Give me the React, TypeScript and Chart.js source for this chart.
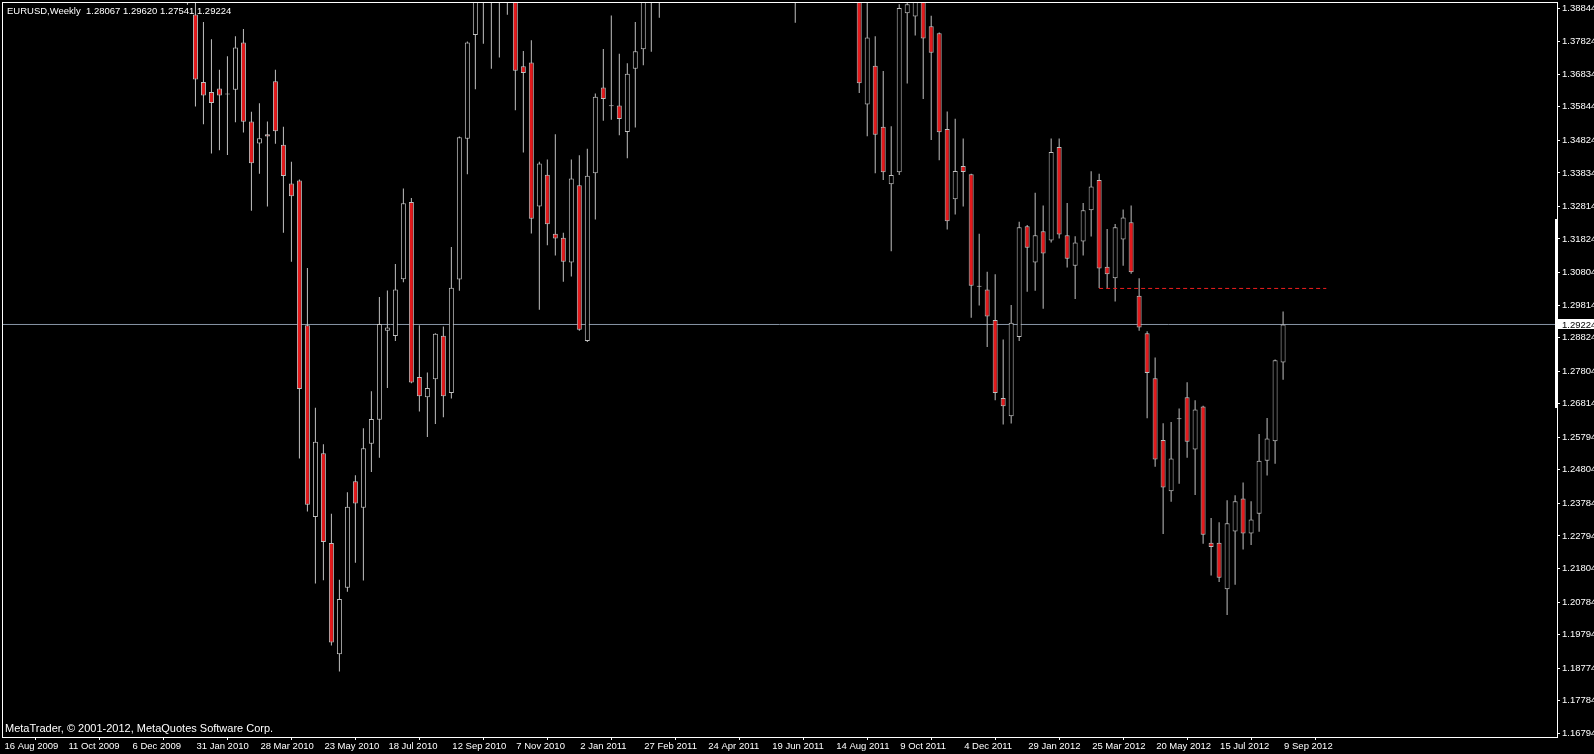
import React, { useEffect, useRef } from "react";
import { Chart, registerables } from "chart.js";

Chart.register(...registerables);

// ---- Data (weekly EURUSD bars, index 0 = week of 16 Aug 2009) ----
const weekLabels = [
  "16 Aug 2009", "11 Oct 2009", "6 Dec 2009", "31 Jan 2010", "28 Mar 2010",
  "23 May 2010", "18 Jul 2010", "12 Sep 2010", "7 Nov 2010", "2 Jan 2011",
  "27 Feb 2011", "24 Apr 2011", "19 Jun 2011", "14 Aug 2011", "9 Oct 2011",
  "4 Dec 2011", "29 Jan 2012", "25 Mar 2012", "20 May 2012", "15 Jul 2012",
  "9 Sep 2012",
];
const labelStep = 8;

const opens = [
  1.4190, 1.4325, 1.4345, 1.4305, 1.4575, 1.4720, 1.4685, 1.4595, 1.4765, 1.4935,
  1.5010, 1.4720, 1.4910, 1.4905, 1.4895, 1.4975, 1.4860, 1.4620, 1.4345, 1.4335,
  1.4320, 1.4410, 1.4380, 1.4140, 1.3865, 1.3660, 1.3629, 1.3640, 1.3622, 1.3636,
  1.3780, 1.3540, 1.3473, 1.3501, 1.3662, 1.3469, 1.3351, 1.3360, 1.2920, 1.2337,
  1.2531, 1.2258, 1.1920, 1.2122, 1.2446, 1.2365, 1.2560, 1.2633, 1.2903, 1.2887,
  1.3060, 1.3295, 1.2763, 1.2701, 1.2756, 1.2888, 1.2714, 1.3059, 1.3487, 1.3803,
  1.3965, 1.3960, 1.3955, 1.3940, 1.4035, 1.3708, 1.3719, 1.3281, 1.3378, 1.3198,
  1.3186, 1.3111, 1.3346, 1.2872, 1.3382, 1.3643, 1.3586, 1.3588, 1.3508, 1.3700,
  1.3759, 1.3990, 1.3925, 1.4060, 1.4160, 1.4235, 1.4465, 1.4430, 1.4580, 1.4810,
  1.4535, 1.4170, 1.4160, 1.4305, 1.4640, 1.4340, 1.4325, 1.4190, 1.4505, 1.4260,
  1.4150, 1.4385, 1.4395, 1.4275, 1.4235, 1.4400, 1.4460, 1.4195, 1.3591, 1.3709,
  1.3524, 1.3349, 1.3385, 1.3869, 1.3859, 1.4150, 1.3829, 1.3808, 1.3517, 1.3303,
  1.3404, 1.3379, 1.3037, 1.3029, 1.2936, 1.2699, 1.2643, 1.2884, 1.3221, 1.3111,
  1.3206, 1.3178, 1.3462, 1.3194, 1.3101, 1.3175, 1.3270, 1.3362, 1.3098, 1.3063,
  1.3181, 1.3233, 1.3010, 1.2896, 1.2759, 1.2571, 1.2415, 1.2634, 1.2701, 1.2542,
  1.2673, 1.2259, 1.2259, 1.2117, 1.2293, 1.2393, 1.2287, 1.2347, 1.2508, 1.2567,
  1.28067,
];
const highs = [
  1.4350, 1.4390, 1.4365, 1.4620, 1.4775, 1.4845, 1.4720, 1.4780, 1.4945, 1.5060,
  1.5050, 1.4925, 1.5015, 1.5010, 1.5145, 1.5140, 1.4890, 1.4690, 1.4390, 1.4510,
  1.4460, 1.4580, 1.4445, 1.4190, 1.3990, 1.3842, 1.3790, 1.3697, 1.3738, 1.3799,
  1.3821, 1.3569, 1.3595, 1.3540, 1.3697, 1.3524, 1.3417, 1.3363, 1.3094, 1.2669,
  1.2558, 1.2347, 1.2146, 1.2412, 1.2464, 1.2607, 1.2719, 1.3006, 1.3026, 1.3106,
  1.3336, 1.3307, 1.2920, 1.2776, 1.2896, 1.2916, 1.3158, 1.3494, 1.3783, 1.4030,
  1.4160, 1.4030, 1.3990, 1.4280, 1.4090, 1.3754, 1.3787, 1.3417, 1.3424, 1.3501,
  1.3201, 1.3424, 1.3437, 1.3457, 1.3625, 1.3760, 1.3862, 1.3746, 1.3717, 1.3842,
  1.4035, 1.4035, 1.4100, 1.4250, 1.4250, 1.4485, 1.4520, 1.4620, 1.4880, 1.4940,
  1.4570, 1.4350, 1.4325, 1.4660, 1.4700, 1.4450, 1.4450, 1.4580, 1.4580, 1.4325,
  1.4425, 1.4530, 1.4450, 1.4410, 1.4550, 1.4500, 1.4550, 1.4200, 1.3920, 1.3799,
  1.3693, 1.3525, 1.3896, 1.3915, 1.4245, 1.4170, 1.3861, 1.3810, 1.3570, 1.3548,
  1.3488, 1.3381, 1.3198, 1.3083, 1.3075, 1.2877, 1.2982, 1.3235, 1.3225, 1.3323,
  1.3284, 1.3488, 1.3488, 1.3292, 1.3191, 1.3292, 1.3388, 1.3381, 1.3213, 1.3228,
  1.3272, 1.3284, 1.3063, 1.2902, 1.2822, 1.2622, 1.2626, 1.2667, 1.2747, 1.2692,
  1.2675, 1.2334, 1.2321, 1.2388, 1.2403, 1.2442, 1.2385, 1.2589, 1.2638, 1.2816,
  1.29620,
];
const lows = [
  1.4050, 1.4185, 1.4140, 1.4290, 1.4540, 1.4600, 1.4480, 1.4550, 1.4740, 1.4855,
  1.4650, 1.4640, 1.4865, 1.4800, 1.4830, 1.4850, 1.4580, 1.4320, 1.4215, 1.4260,
  1.4255, 1.4370, 1.4030, 1.3895, 1.3585, 1.3531, 1.3442, 1.3452, 1.3438, 1.3537,
  1.3506, 1.3268, 1.3381, 1.3281, 1.3472, 1.3201, 1.3113, 1.2515, 1.2354, 1.2135,
  1.2145, 1.1946, 1.1867, 1.2110, 1.2198, 1.2144, 1.2474, 1.2517, 1.2729, 1.2872,
  1.3051, 1.2744, 1.2658, 1.2580, 1.2620, 1.2640, 1.2697, 1.3025, 1.3379, 1.3638,
  1.3776, 1.3700, 1.3734, 1.3864, 1.3574, 1.3445, 1.3199, 1.2967, 1.3163, 1.3132,
  1.3052, 1.3068, 1.2903, 1.2869, 1.3242, 1.3542, 1.3545, 1.3498, 1.3428, 1.3521,
  1.3711, 1.3752, 1.3855, 1.4020, 1.4020, 1.4150, 1.4330, 1.4150, 1.4560, 1.4520,
  1.4150, 1.4060, 1.3970, 1.4260, 1.4330, 1.4070, 1.4100, 1.4155, 1.4240, 1.3840,
  1.4020, 1.4280, 1.4050, 1.4050, 1.4200, 1.4140, 1.4135, 1.3626, 1.3495, 1.3382,
  1.3362, 1.3145, 1.3377, 1.3655, 1.3801, 1.3608, 1.3483, 1.3422, 1.3211, 1.3257,
  1.3281, 1.2943, 1.2980, 1.2854, 1.2692, 1.2618, 1.2621, 1.2872, 1.3022, 1.3025,
  1.2970, 1.3172, 1.3184, 1.3096, 1.3000, 1.3132, 1.3190, 1.3033, 1.3033, 1.2992,
  1.3101, 1.3077, 1.2903, 1.2637, 1.2490, 1.2285, 1.2383, 1.2438, 1.2517, 1.2404,
  1.2256, 1.2159, 1.2139, 1.2039, 1.2131, 1.2238, 1.2252, 1.2292, 1.2463, 1.2499,
  1.27541,
];
const closes = [
  1.4325, 1.4345, 1.4305, 1.4575, 1.4720, 1.4685, 1.4595, 1.4765, 1.4935, 1.5010,
  1.4720, 1.4910, 1.4905, 1.4895, 1.4975, 1.4860, 1.4620, 1.4345, 1.4335, 1.4320,
  1.4410, 1.4380, 1.4140, 1.3899, 1.3667, 1.3619, 1.3596, 1.3619, 1.3624, 1.3765,
  1.3539, 1.3413, 1.3489, 1.3494, 1.3510, 1.3374, 1.3312, 1.2726, 1.2374, 1.2566,
  1.2261, 1.1955, 1.2088, 1.2368, 1.2378, 1.2546, 1.2635, 1.2924, 1.2913, 1.3029,
  1.3291, 1.2746, 1.2704, 1.2729, 1.2894, 1.2704, 1.3034, 1.3492, 1.3780, 1.3965,
  1.3960, 1.3955, 1.3940, 1.4035, 1.3694, 1.3687, 1.3244, 1.3412, 1.3227, 1.3184,
  1.3113, 1.3366, 1.2906, 1.3375, 1.3615, 1.3608, 1.3589, 1.3547, 1.3685, 1.3753,
  1.3990, 1.3925, 1.4060, 1.4160, 1.4235, 1.4465, 1.4430, 1.4580, 1.4810, 1.4535,
  1.4170, 1.4160, 1.4305, 1.4640, 1.4340, 1.4325, 1.4190, 1.4505, 1.4260, 1.4150,
  1.4385, 1.4395, 1.4275, 1.4235, 1.4400, 1.4460, 1.4195, 1.3656, 1.3795, 1.3499,
  1.3385, 1.3377, 1.3885, 1.3896, 1.4150, 1.3792, 1.3749, 1.3507, 1.3236, 1.3389,
  1.3386, 1.3040, 1.3038, 1.2947, 1.2714, 1.2674, 1.2928, 1.3218, 1.3156, 1.3194,
  1.3138, 1.3447, 1.3196, 1.3122, 1.3172, 1.3270, 1.3342, 1.3093, 1.3075, 1.3218,
  1.3248, 1.3081, 1.2913, 1.2775, 1.2512, 1.2427, 1.2515, 1.2637, 1.2566, 1.2664,
  1.2283, 1.2246, 1.2152, 1.2318, 1.2385, 1.2287, 1.2329, 1.2508, 1.2576, 1.2814,
  1.29224,
];

const priceTicks = [
  1.38844, 1.37824, 1.36834, 1.35844, 1.34824, 1.33834, 1.32814, 1.31824,
  1.30804, 1.29814, 1.28824, 1.27804, 1.26814, 1.25794, 1.24804, 1.23784,
  1.22794, 1.21804, 1.20784, 1.19794, 1.18774, 1.17784, 1.16794,
];

const symbolTitle = "EURUSD,Weekly";
const copyrightText = "MetaTrader, \u00A9 2001-2012, MetaQuotes Software Corp.";
const levelPrice = 1.3032;
const levelFrom = 137;
const levelTo = 165.4;
const scaleBarRange = [1.2668, 1.3243];

// ---- Style ----
const X_MIN = -0.1875;
const X_MAX = 194.25;
const Y_MIN = 1.1668;
const Y_MAX = 1.3903;
const RED = "#E31A1C";
const GRAY = "#C0C0C0";
const FONT = "Liberation Sans";
const FONT_SIZE = 9.5;
const COPY_FONT_SIZE = 11;

const fmt = (v: number) => v.toFixed(5);

export default function App() {
  const ref = useRef<HTMLCanvasElement | null>(null);

  useEffect(() => {
    const canvas = ref.current;
    if (!canvas) return;
    Chart.defaults.font.family = FONT;

    const n = closes.length;
    const last = n - 1;
    const bid = closes[last];

    const bodyData = opens.map((o, i) => ({
      x: i,
      y: [Math.min(o, closes[i]), Math.max(o, closes[i])],
    }));
    const wickData = lows.map((l, i) => ({ x: i, y: [l, highs[i]] }));
    const bodyColors = opens.map((o, i) => (closes[i] < o ? RED : "#000000"));

    const overlay = {
      id: "mtOverlay",
      afterDraw(chart: any) {
        const ctx = chart.ctx as CanvasRenderingContext2D;
        const a = chart.chartArea;
        const ys = chart.scales.y;
        ctx.save();
        // frame
        ctx.strokeStyle = "#FFFFFF";
        ctx.lineWidth = 1;
        ctx.strokeRect(a.left + 0.5, a.top + 0.5, a.right - a.left, a.bottom - a.top);
        // scale range bar at the right edge
        const b1 = ys.getPixelForValue(scaleBarRange[1]);
        const b2 = ys.getPixelForValue(scaleBarRange[0]);
        ctx.fillStyle = "#FFFFFF";
        ctx.fillRect(a.right - 2, Math.round(b1), 3, Math.round(b2 - b1));
        // texts
        ctx.textBaseline = "middle";
        ctx.textAlign = "left";
        ctx.fillStyle = "#FFFFFF";
        ctx.font = `${FONT_SIZE}px "${FONT}"`;
        const header = `${symbolTitle}  ${fmt(opens[last])} ${fmt(highs[last])} ${fmt(lows[last])} ${fmt(closes[last])}`;
        ctx.fillText(header, a.left + 5, a.top + 9);
        ctx.font = `${COPY_FONT_SIZE}px "${FONT}"`;
        ctx.fillText(copyrightText, a.left + 3, a.bottom - 8);
        // bid price label
        ctx.font = `${FONT_SIZE}px "${FONT}"`;
        const py = ys.getPixelForValue(bid);
        ctx.fillStyle = "#FFFFFF";
        ctx.fillRect(a.right + 1, Math.round(py) - 5, chart.width - a.right - 1, 10);
        ctx.fillStyle = "#000000";
        ctx.fillText(fmt(bid), a.right + 5, py + 0.5);
        ctx.restore();
      },
    };

    const chart = new Chart(canvas, {
      type: "bar",
      data: {
        datasets: [
          {
            type: "line",
            label: "level",
            data: [
              { x: levelFrom, y: levelPrice },
              { x: levelTo, y: levelPrice },
            ],
            borderColor: "#F01E1E",
            borderWidth: 1,
            borderDash: [4, 3],
            pointRadius: 0,
            order: 0,
          } as any,
          {
            type: "bar",
            label: "bodies",
            data: bodyData,
            backgroundColor: bodyColors,
            borderColor: GRAY,
            borderWidth: 1,
            borderSkipped: false,
            barThickness: 5,
            minBarLength: 1,
            grouped: false,
            inflateAmount: 0,
            order: 1,
            clip: 0,
          } as any,
          {
            type: "bar",
            label: "wicks",
            data: wickData,
            backgroundColor: GRAY,
            borderWidth: 0,
            barThickness: 1,
            grouped: false,
            inflateAmount: 0,
            order: 2,
            clip: 0,
          } as any,
          {
            type: "line",
            label: "bid",
            data: [
              { x: X_MIN, y: bid },
              { x: X_MAX, y: bid },
            ],
            borderColor: "#8896A6",
            borderWidth: 1,
            pointRadius: 0,
            order: 3,
          } as any,
        ],
      },
      options: {
        responsive: false,
        animation: false,
        devicePixelRatio: 1,
        events: [],
        layout: { padding: { left: 2, top: 2, right: 0, bottom: 0 } },
        plugins: { legend: { display: false }, tooltip: { enabled: false } },
        scales: {
          x: {
            type: "linear",
            min: X_MIN,
            max: X_MAX,
            offset: false,
            afterBuildTicks: (s: any) => {
              s.ticks = weekLabels.map((_, k) => ({ value: k * labelStep }));
            },
            afterFit: (s: any) => {
              s.height = 17;
              s.paddingLeft = 0;
              s.paddingRight = 0;
            },
            ticks: {
              autoSkip: false,
              maxRotation: 0,
              minRotation: 0,
              align: "start",
              labelOffset: 1,
              padding: 1,
              color: "#FFFFFF",
              font: { family: FONT, size: FONT_SIZE },
              callback: (v: any) => weekLabels[Math.round(Number(v) / labelStep)] ?? "",
            },
            grid: {
              drawOnChartArea: false,
              drawTicks: true,
              tickLength: 3,
              color: "#FFFFFF",
            },
            border: { display: false },
          } as any,
          y: {
            type: "linear",
            position: "right",
            min: Y_MIN,
            max: Y_MAX,
            afterBuildTicks: (s: any) => {
              s.ticks = priceTicks.map((v) => ({ value: v }));
            },
            afterFit: (s: any) => {
              s.width = 37;
              s.paddingTop = 0;
              s.paddingBottom = 0;
            },
            ticks: {
              autoSkip: false,
              padding: 2,
              color: "#FFFFFF",
              font: { family: FONT, size: FONT_SIZE },
              callback: (v: any) => fmt(Number(v)),
            },
            grid: {
              drawOnChartArea: false,
              drawTicks: true,
              tickLength: 3,
              color: "#FFFFFF",
            },
            border: { display: false },
          } as any,
        },
      },
      plugins: [overlay],
    });

    return () => chart.destroy();
  }, []);

  return (
    <div
      style={{
        position: "fixed",
        left: 0,
        top: 0,
        width: 1594,
        height: 754,
        background: "#000000",
        overflow: "hidden",
      }}
    >
      <canvas ref={ref} width={1594} height={754} style={{ display: "block" }} />
    </div>
  );
}
